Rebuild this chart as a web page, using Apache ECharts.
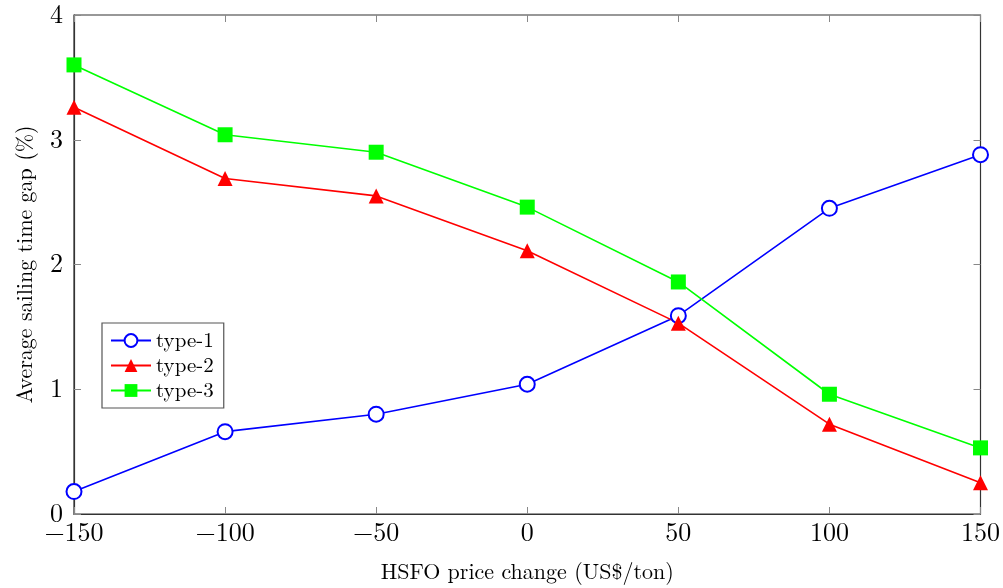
<!DOCTYPE html>
<html>
<head>
<meta charset="utf-8">
<script src="https://cdn.jsdelivr.net/npm/echarts@6/dist/echarts.min.js"></script>
<style>
  html, body { margin: 0; padding: 0; background: #fff; }
  #chart { width: 1003px; height: 588px; }
</style>
</head>
<body>
<div id="chart"></div>
<script>
// HSFO price change (US$/ton)
var priceChange = [-150, -100, -50, 0, 50, 100, 150]
var type1 = [0.18, 0.66, 0.80, 1.04, 1.59, 2.45, 2.88]
var type2 = [3.26, 2.69, 2.55, 2.11, 1.53, 0.72, 0.25]
var type3 = [3.60, 3.04, 2.90, 2.46, 1.86, 0.96, 0.53]
var yTicks = [0, 1, 2, 3, 4]

var font = '"Latin Modern Roman", "DejaVu Serif", "Liberation Serif", serif'

function pairs (ys) {
  return priceChange.map(function (x, i) { return [x, ys[i]] })
}

var tickStyle = { show: true, inside: true, length: 7, lineStyle: { color: '#888', width: 1 } }

var chart = echarts.init(document.getElementById('chart'))
chart.setOption({
  animation: false,
  grid: { left: 74, right: 20, top: 15, bottom: 71, show: true, borderColor: '#333', borderWidth: 1.2 },
  legend: {
    left: 102, top: 323, orient: 'vertical',
    padding: [7, 10, 7, 8], itemGap: 4, itemWidth: 40, itemHeight: 16,
    borderColor: '#555', borderWidth: 1.2, backgroundColor: '#fff',
    textStyle: { fontFamily: font, fontSize: 21, color: '#000' },
    data: ['type-1', 'type-2', 'type-3']
  },
  xAxis: [{
    type: 'value', min: -150, max: 150, interval: 50,
    name: 'HSFO price change (US$/ton)', nameLocation: 'middle', nameGap: 47,
    nameTextStyle: { fontFamily: font, fontSize: 22, color: '#000' },
    axisLine: { onZero: false, lineStyle: { color: '#333', width: 1.2 } },
    axisTick: tickStyle,
    splitLine: { show: false },
    axisLabel: {
      fontFamily: font, fontSize: 26, color: '#000', margin: 6,
      formatter: function (v) { return String(v).replace('-', '\u2212') }
    }
  }, {
    type: 'value', min: -150, max: 150, interval: 50, position: 'top',
    axisLine: { show: false, onZero: false }, axisTick: tickStyle, axisLabel: { show: false }, splitLine: { show: false }
  }],
  yAxis: [{
    type: 'value', min: yTicks[0], max: yTicks[yTicks.length - 1], interval: 1,
    name: 'Average sailing time gap (%)', nameLocation: 'middle', nameGap: 38,
    nameTextStyle: { fontFamily: font, fontSize: 22, color: '#000' },
    axisLine: { show: true, onZero: false, lineStyle: { color: '#333', width: 1.2 } },
    axisTick: tickStyle,
    splitLine: { show: false },
    axisLabel: { fontFamily: font, fontSize: 26, color: '#000', margin: 11 }
  }, {
    type: 'value', min: yTicks[0], max: yTicks[yTicks.length - 1], interval: 1, position: 'right',
    axisLine: { show: false, onZero: false }, axisTick: tickStyle, axisLabel: { show: false }, splitLine: { show: false }
  }],
  series: [{
    name: 'type-1', type: 'line', data: pairs(type1),
    symbol: 'emptyCircle', symbolSize: 15,
    itemStyle: { color: '#0000ff', borderWidth: 1.6 },
    lineStyle: { color: '#0000ff', width: 1.6 }
  }, {
    name: 'type-2', type: 'line', data: pairs(type2),
    symbol: 'triangle', symbolSize: 15,
    itemStyle: { color: '#ff0000' },
    lineStyle: { color: '#ff0000', width: 1.6 }
  }, {
    name: 'type-3', type: 'line', data: pairs(type3),
    symbol: 'rect', symbolSize: 15,
    itemStyle: { color: '#00ff00' },
    lineStyle: { color: '#00ff00', width: 1.6 }
  }]
})
</script>
</body>
</html>
